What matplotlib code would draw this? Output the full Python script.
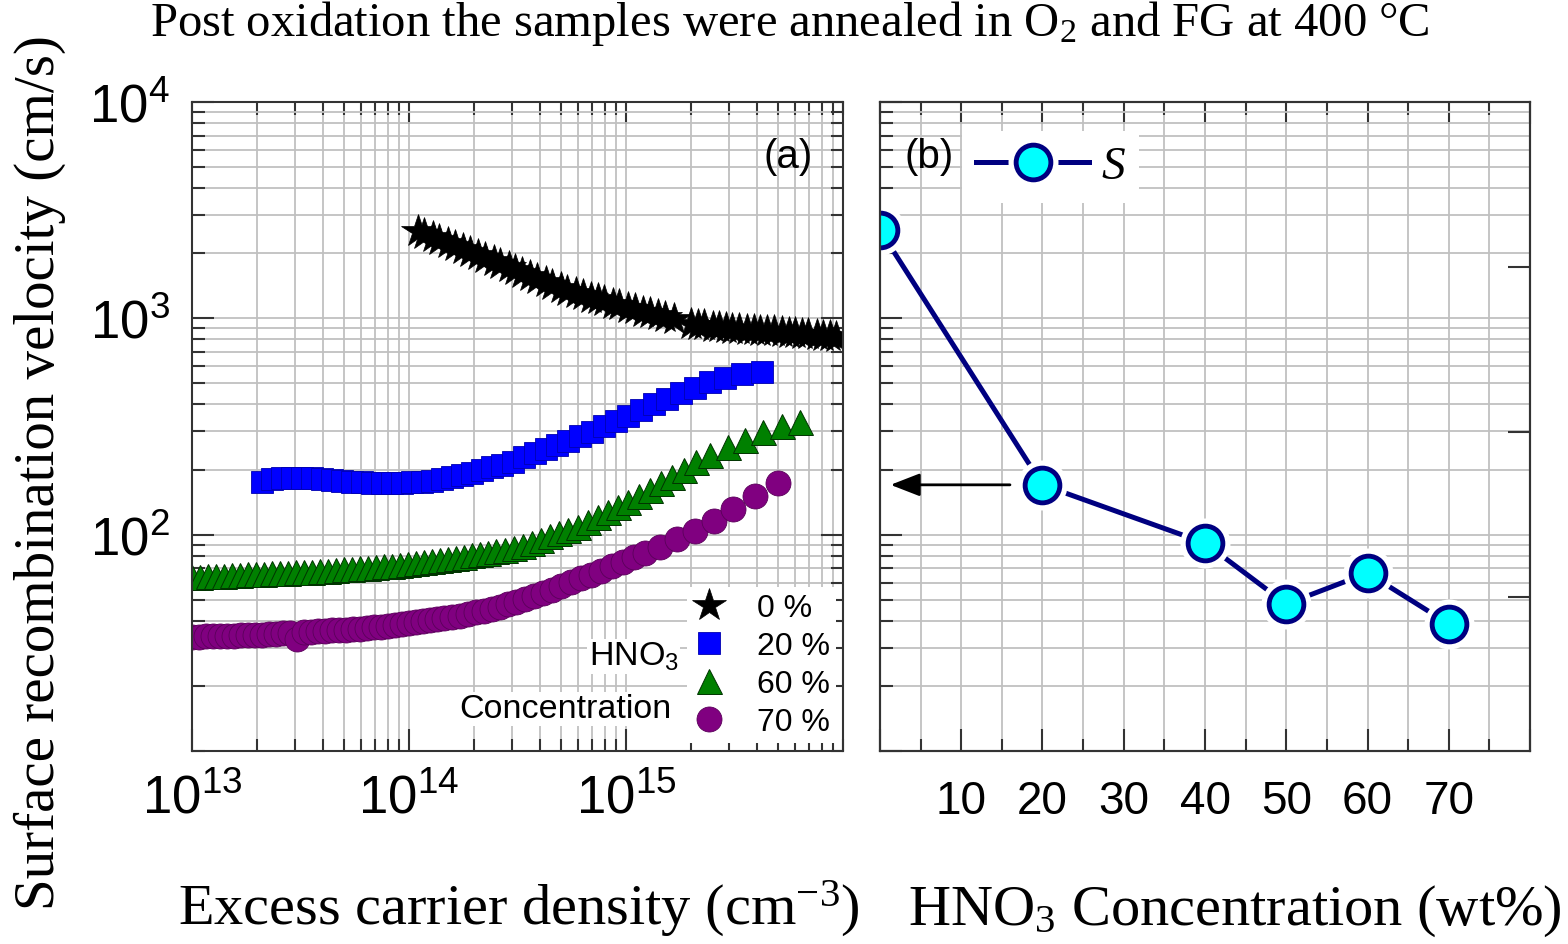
import numpy as np
import matplotlib
matplotlib.use('Agg')
import matplotlib.pyplot as plt
from matplotlib.ticker import (LogLocator, NullFormatter, NullLocator, FuncFormatter,
                               MultipleLocator, FixedLocator)
from matplotlib.lines import Line2D
from matplotlib.legend_handler import HandlerTuple

SANS = 'Liberation Sans'
SERIF = 'Liberation Serif'
plt.rcParams['font.family'] = SANS
plt.rcParams['mathtext.default'] = 'regular'

# ---- panel (a): S vs excess carrier density (x stored as log10 of cm^-3)
star_logn = [14.04, 14.07, 14.11, 14.14, 14.18, 14.21, 14.25, 14.28, 14.32, 14.35,
             14.39, 14.42, 14.46, 14.49, 14.52, 14.56, 14.59, 14.63, 14.66, 14.70,
             14.73, 14.77, 14.80, 14.84, 14.87, 14.90, 14.94, 14.97, 15.01, 15.04,
             15.08, 15.11, 15.15, 15.18, 15.22,
             15.30, 15.33, 15.36, 15.40, 15.43, 15.46, 15.49, 15.52, 15.56, 15.59,
             15.62, 15.65, 15.68, 15.72, 15.75, 15.78, 15.81, 15.84, 15.88, 15.91,
             15.94, 15.97]
star_S = [2535, 2466, 2377, 2312, 2228, 2168, 2089, 2032, 1959, 1905,
          1837, 1784, 1720, 1671, 1626, 1567, 1524, 1469, 1429, 1377,
          1340, 1306, 1281, 1247, 1225, 1201, 1169, 1148, 1119, 1099,
          1074, 1057, 1034, 1016, 993,
          942, 933, 927, 916, 908, 902, 893, 889, 885, 881,
          877, 873, 870, 865, 859, 854, 849, 843, 836, 830,
          826, 820]

sq_logn = [13.323, 13.369, 13.415, 13.461, 13.507, 13.553, 13.599, 13.645, 13.691, 13.737,
           13.783, 13.829, 13.876, 13.922, 13.968, 14.014, 14.060, 14.106, 14.152, 14.198,
           14.244, 14.290, 14.336, 14.382, 14.429, 14.479, 14.530, 14.581, 14.631, 14.682,
           14.733, 14.788, 14.843, 14.899, 14.954, 15.009, 15.069, 15.129, 15.189, 15.253,
           15.318, 15.387, 15.456, 15.535, 15.627]
sq_S = [175.2, 180.9, 182.9, 182.9, 182.9, 181.9, 180.9, 179.0, 177.1, 175.2,
        174.3, 173.4, 173.4, 173.4, 173.4, 174.3, 175.2, 178.0, 180.9, 184.9,
        188.8, 192.9, 198.1, 204.5, 210.0, 216.8, 227.5, 238.7, 249.1, 259.9,
        271.2, 284.4, 298.4, 316.4, 333.7, 353.9, 377.2, 399.9, 424.1, 449.6,
        474.2, 505.4, 527.4, 553.4, 565.2]

tri_logn = [13.000, 13.037, 13.074, 13.111, 13.147, 13.184, 13.221, 13.258, 13.295, 13.332,
            13.369, 13.406, 13.442, 13.479, 13.516, 13.553, 13.590, 13.627, 13.664, 13.700,
            13.737, 13.774, 13.811, 13.848, 13.885, 13.922, 13.959, 13.995, 14.032, 14.069,
            14.106, 14.143, 14.180, 14.217, 14.253, 14.290, 14.327, 14.364, 14.401, 14.442,
            14.484, 14.525, 14.567, 14.608, 14.650, 14.691, 14.733, 14.779, 14.825, 14.871,
            14.917, 14.963, 15.009, 15.060, 15.111, 15.161, 15.212, 15.267, 15.323, 15.387,
            15.470, 15.548, 15.631, 15.719, 15.802]
tri_S = [63.73, 64.01, 64.22, 64.48, 64.76, 64.97, 65.24, 65.53, 65.80, 66.01,
         66.29, 66.50, 66.79, 67.07, 67.29, 67.58, 67.86, 68.22, 68.66, 69.11,
         69.56, 70.00, 70.45, 70.91, 71.35, 71.81, 72.58, 73.28, 74.06, 74.78,
         75.58, 76.38, 77.12, 77.94, 79.03, 80.23, 81.44, 82.65, 83.90, 85.34,
         86.81, 88.69, 91.76, 94.84, 98.10, 101.4, 104.9, 109.1, 114.8, 121.0,
         127.3, 134.4, 142.1, 150.8, 161.1, 172.7, 185.0, 199.5, 215.7, 233.6,
         254.4, 274.1, 298.4, 318.1, 331.9]

circ_logn = [13.000, 13.032, 13.065, 13.097, 13.129, 13.161, 13.194, 13.226, 13.258, 13.290,
             13.323, 13.355, 13.387, 13.419, 13.452, 13.484, 13.516, 13.548, 13.581, 13.613,
             13.645, 13.677, 13.710, 13.742, 13.774, 13.806, 13.839, 13.871, 13.903, 13.935,
             13.968, 14.000, 14.032, 14.065, 14.097, 14.129, 14.161, 14.198, 14.235, 14.272,
             14.309, 14.346, 14.382, 14.419, 14.456, 14.493, 14.535, 14.576, 14.618, 14.659,
             14.700, 14.747, 14.793, 14.839, 14.885, 14.935, 14.986, 15.037, 15.088, 15.157,
             15.235, 15.318, 15.406, 15.493, 15.594, 15.700]
circ_S = [33.66, 33.73, 33.84, 33.91, 33.98, 34.05, 34.13, 34.20, 34.27, 34.34,
          34.49, 34.64, 34.82, 34.97, 35.12, 32.90, 35.42, 35.61, 35.76, 35.91,
          36.07, 36.22, 36.42, 36.57, 36.77, 37.00, 37.24, 37.52, 37.76, 38.16,
          38.57, 39.03, 39.44, 39.91, 40.33, 40.81, 41.25, 41.78, 42.31, 43.00,
          43.69, 44.35, 45.15, 46.42, 47.72, 49.01, 50.55, 52.14, 53.77, 55.75,
          57.86, 60.25, 62.80, 65.46, 68.30, 71.50, 74.86, 78.45, 82.13, 87.72,
          95.53, 104.0, 115.7, 131.5, 151.0, 173.4]

legend_labels = ['0 %', '20 %', '60 %', '70 %']

# ---- panel (b): S vs HNO3 concentration
conc = [0, 20, 40, 50, 60, 70]
S_conc = [2560, 170, 91.5, 47.8, 66.5, 38.7]

GRID = '#c0c0c0'
SPINE = '#333333'
NAVY = '#000080'

fig = plt.figure(figsize=(15.68, 9.45), dpi=100)
ax_a = fig.add_axes([0.1224, 0.2042, 0.4152, 0.6868])
ax_b = fig.add_axes([0.5612, 0.2042, 0.4146, 0.6868])

h_star, = ax_a.plot(10 ** np.array(star_logn), star_S, ls='none', marker='*', ms=25,
                    mfc='black', mec='black', mew=0.5)
h_sq, = ax_a.plot(10 ** np.array(sq_logn), sq_S, ls='none', marker='s', ms=16.5,
                  mfc='#0000ff', mec='#0000b0', mew=0.6)
h_tri, = ax_a.plot(10 ** np.array(tri_logn), tri_S, ls='none', marker='^', ms=18,
                   mfc='#008000', mec='#003300', mew=0.7)
h_circ, = ax_a.plot(10 ** np.array(circ_logn), circ_S, ls='none', marker='o', ms=18,
                    mfc='#800080', mec='#5a005a', mew=0.6)

ax_a.set_xscale('log')
ax_a.set_yscale('log')
ax_a.set_xlim(1e13, 1e16)
ax_a.set_ylim(10, 1e4)
log_fmt = FuncFormatter(lambda v, p: r'$10^{%d}$' % round(np.log10(v)))
ax_a.xaxis.set_major_locator(FixedLocator([1e13, 1e14, 1e15]))
ax_a.yaxis.set_major_locator(FixedLocator([1e2, 1e3, 1e4]))
ax_a.xaxis.set_major_formatter(log_fmt)
ax_a.yaxis.set_major_formatter(log_fmt)
for axis in (ax_a.xaxis, ax_a.yaxis):
    axis.set_minor_locator(LogLocator(base=10, subs=np.arange(1, 10), numticks=50))
    axis.set_minor_formatter(NullFormatter())
ax_a.grid(True, which='both', color=GRID, lw=1.3)
ax_a.set_axisbelow(True)
ax_a.tick_params(which='both', direction='in', top=True, right=True, width=1.5, color=SPINE)
ax_a.tick_params(which='major', length=16, pad=16, labelsize=38)
ax_a.tick_params(which='minor', length=9)

leg = ax_a.legend([h_star, h_sq, h_tri, h_circ], legend_labels, loc='lower right',
                  bbox_to_anchor=(0.99, 0.012), borderaxespad=0, borderpad=0.2,
                  handlelength=1.0, handletextpad=1.0, labelspacing=0.25,
                  fontsize=23, frameon=True, fancybox=False, framealpha=1,
                  edgecolor='none', facecolor='white')
ax_a.text(0.748, 0.146, 'HNO$_3$', transform=ax_a.transAxes, ha='right', va='center',
          fontsize=24.5, bbox=dict(fc='white', ec='none', pad=1))
ax_a.text(0.737, 0.065, 'Concentration', transform=ax_a.transAxes, ha='right',
          va='center', fontsize=24.5, bbox=dict(fc='white', ec='none', pad=1))
ax_a.text(0.954, 0.917, '(a)', transform=ax_a.transAxes, ha='right', va='center',
          fontsize=29)

# ---- panel (b)
ax_b.plot(conc, S_conc, color=NAVY, lw=3.6, zorder=2)
ax_b.plot(conc, S_conc, ls='none', marker='o', ms=36, mfc='white', mec='none', zorder=2.2)
ax_b.plot(conc, S_conc, ls='none', marker='o', ms=25, mfc='#00ffff', mec=NAVY,
          mew=3.5, zorder=2.4)
ax_b.set_yscale('log')
ax_b.set_xlim(0, 80)
ax_b.set_ylim(10, 1e4)
ax_b.xaxis.set_major_locator(MultipleLocator(10))
ax_b.xaxis.set_minor_locator(MultipleLocator(5))
ax_b.xaxis.set_major_formatter(FuncFormatter(lambda v, p: '%d' % v if 0 < v < 80 else ''))
ax_b.yaxis.set_major_locator(LogLocator(base=10, numticks=10))
ax_b.yaxis.set_minor_locator(LogLocator(base=10, subs=np.arange(2, 10), numticks=50))
ax_b.yaxis.set_minor_formatter(NullFormatter())
ax_b.grid(True, which='both', color=GRID, lw=1.3)
ax_b.set_axisbelow(True)
ax_b.tick_params(which='both', direction='in', top=True, right=False, width=1.5,
                 color=SPINE, labelleft=False)
ax_b.tick_params(which='major', length=16, pad=20, labelsize=33)
ax_b.tick_params(which='minor', length=9)

ax_b.annotate('', xy=(1.3, 170), xytext=(16.0, 170),
              arrowprops=dict(arrowstyle='-|>,head_length=0.9,head_width=0.35',
                              color='black', lw=2, mutation_scale=20,
                              shrinkA=0, shrinkB=0))

h_line = Line2D([], [], color=NAVY, lw=3.6)
h_halo = Line2D([], [], ls='none', marker='o', ms=36, mfc='white', mec='none')
h_mark = Line2D([], [], ls='none', marker='o', ms=25, mfc='#00ffff', mec=NAVY, mew=3.5)
ax_b.legend([(h_line, h_halo, h_mark)], ['S'], handler_map={tuple: HandlerTuple(ndivide=1)},
            loc='upper left', bbox_to_anchor=(0.126, 0.955), borderaxespad=0,
            borderpad=0.3, handlelength=2.4, handletextpad=0.25,
            prop={'family': SERIF, 'style': 'italic', 'size': 34},
            frameon=True, fancybox=False, framealpha=1, edgecolor='none', facecolor='white')
ax_b.text(0.038, 0.917, '(b)', transform=ax_b.transAxes, ha='left', va='center', fontsize=29)

ax_b2 = ax_b.twinx()
ax_b2.set_ylim(0.07, 4.0)
ax_b2.yaxis.set_major_locator(FixedLocator([1, 2, 3]))
ax_b2.yaxis.set_minor_locator(NullLocator())
ax_b2.tick_params(direction='in', length=16, width=1.5, color=SPINE, labelright=False)

for ax in (ax_a, ax_b, ax_b2):
    for sp in ax.spines.values():
        sp.set_color(SPINE)
        sp.set_linewidth(1.5)

fig.text(40 / 1568, 0.5, 'Surface recombination velocity (cm/s)', rotation=90,
         ha='center', va='center', fontsize=41, family=SERIF)
fig.text(519 / 1568, 20 / 945, 'Excess carrier density (cm$^{-3}$)', ha='center',
         va='baseline', fontsize=42, family=SERIF)
fig.text(1235 / 1568, 20 / 945, 'HNO$_3$ Concentration (wt%)', ha='center',
         va='baseline', fontsize=42, family=SERIF)
fig.text(0.504, 1 - 36 / 945, 'Post oxidation the samples were annealed in O$_2$ and FG at 400 °C',
         ha='center', va='baseline', fontsize=35, family=SERIF)

fig.savefig('out.png', dpi=100)
